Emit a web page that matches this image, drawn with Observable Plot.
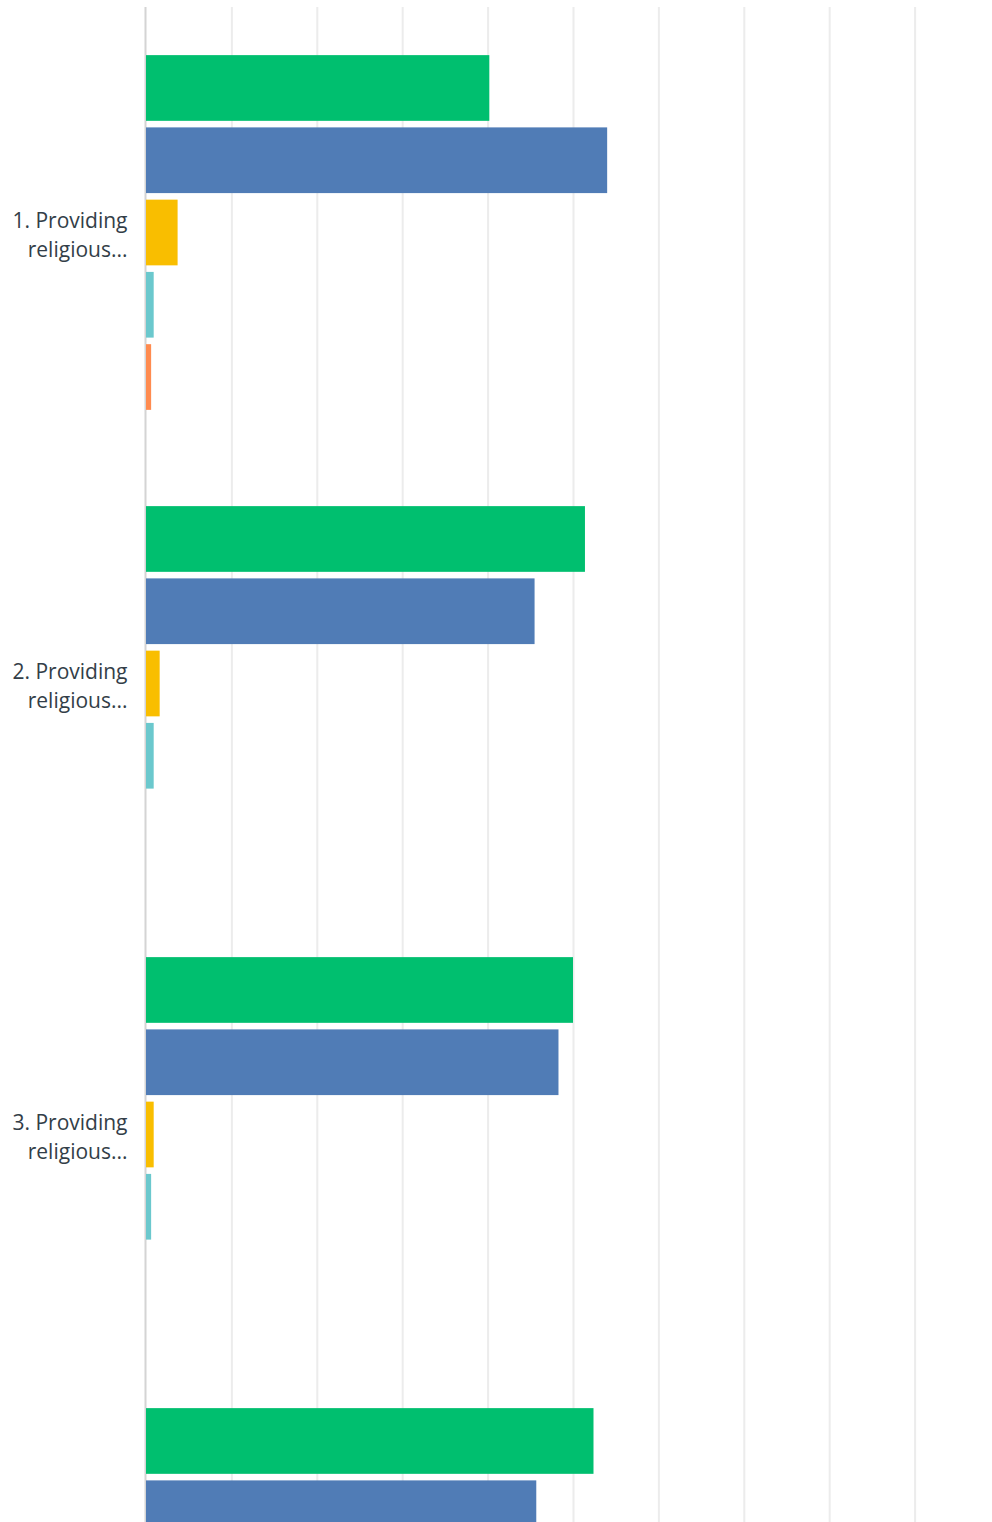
<!DOCTYPE html>
<html>
<head>
<meta charset="utf-8">
<script src="https://cdn.jsdelivr.net/npm/d3@7"></script>
<script src="https://cdn.jsdelivr.net/npm/@observablehq/plot@0.6"></script>
<style>
  html, body { margin: 0; padding: 0; background: #fff; overflow: hidden; }
  #wrap { width: 992px; height: 1522px; overflow: hidden; }
</style>
</head>
<body>
<div id="wrap"></div>
<script>
const questions = [
  "1. Providing religious...",
  "2. Providing religious...",
  "3. Providing religious...",
  "4. Providing religious..."
];
// question labels whose text lies inside the photographed frame
const labelledQuestions = questions.slice(0, 3);
const seriesNames = ["Response 1", "Response 2", "Response 3", "Response 4", "Response 5"];
const seriesColors = ["#00BF6F", "#507CB6", "#F9BE00", "#6BC8CD", "#FF8B4F"];

// percentages (group 4 partly outside the frame)
const response1 = [40.2, 51.4, 50.0, 52.4];
const response2 = [54.0, 45.5, 48.3, 45.7];
const response3 = [3.7, 1.6, 0.9, null];
const response4 = [0.9, 0.9, 0.6, null];
const response5 = [0.6, 0, 0, null];

const gridTicks = [10, 20, 30, 40, 50, 60, 70, 80, 90, 100];

const seriesValues = [response1, response2, response3, response4, response5];
const data = [];
questions.forEach((q, i) => {
  seriesNames.forEach((s, j) => {
    const v = seriesValues[j][i];
    if (v != null) data.push({question: q, series: s, value: v});
  });
});

const chart = Plot.plot({
  width: 1012,
  height: 1841,
  marginLeft: 146,
  marginRight: 12,
  marginTop: 7,
  marginBottom: 30,
  style: {maxWidth: "none", overflow: "hidden", fontFamily: "Open Sans", background: "#fff"},
  x: {domain: [0, 100], axis: null},
  y: {domain: seriesNames, paddingInner: 0.0907, paddingOuter: 0.666, round: false, axis: null},
  fy: {domain: questions, padding: 0, round: false, axis: null},
  color: {domain: seriesNames, range: seriesColors},
  marks: [
    Plot.gridX(gridTicks, {stroke: "#ececec", strokeOpacity: 1, strokeWidth: 2}),
    Plot.ruleX([0], {stroke: "#d4d4d4", strokeWidth: 2, dx: -1}),
    Plot.barX(data, {fy: "question", y: "series", x: "value", fill: "series"}),
    Plot.text(labelledQuestions, {
      fy: (d) => d,
      text: (d) => d.replace(" religious", "\nreligious"),
      frameAnchor: "left",
      textAnchor: "end",
      lineAnchor: "middle",
      dx: -19,
      fontSize: 21,
      lineHeight: 1.38,
      fill: "#333e48"
    })
  ]
});
document.getElementById("wrap").appendChild(chart);
</script>
</body>
</html>
